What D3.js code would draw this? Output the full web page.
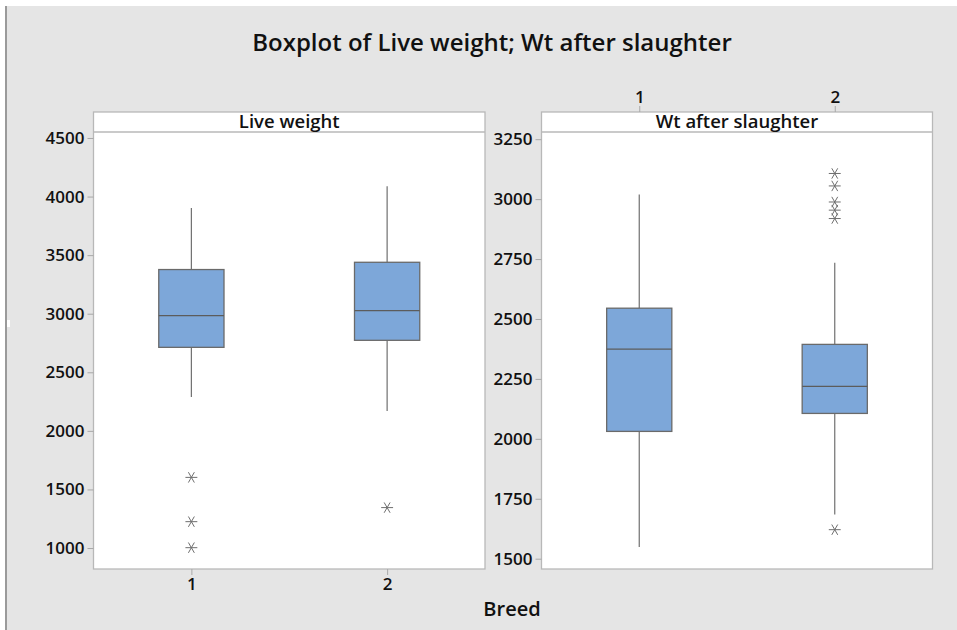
<!DOCTYPE html>
<html>
<head>
<meta charset="utf-8">
<script src="https://cdn.jsdelivr.net/npm/d3@7"></script>
<style>
  body { margin: 0; background: #ffffff; }
  svg text { font-family: "Open Sans", "Noto Sans", sans-serif; fill: #111; }
</style>
</head>
<body>
<script>
//Minitab style boxplot, two panels sharing the Breed axis

//data
var breeds = ["1", "2"];

//Live weight, one value per breed
var liveLow = [2289, 2169],
    liveQ1 = [2713, 2773],
    liveMed = [2984, 3026],
    liveQ3 = [3377, 3439],
    liveHigh = [3902, 4088];
var liveOutliers = [[1603, 1225, 1003], [1345]];
var liveTicks = [1000, 1500, 2000, 2500, 3000, 3500, 4000, 4500];

//Wt after slaughter
var wtLow = [1549, 1684],
    wtQ1 = [2031, 2106],
    wtMed = [2374, 2219],
    wtQ3 = [2545, 2394],
    wtHigh = [3019, 2735];
var wtOutliers = [[], [3107, 3055, 2988, 2954, 2919, 1621]];
var wtTicks = [1500, 1750, 2000, 2250, 2500, 2750, 3000, 3250];

var width = 957, height = 630;

var svg = d3.select("body")
    .append("svg")
    .attr("width", width)
    .attr("height", height);

//figure background
svg.append("rect")
    .attr("x", 6).attr("y", 6)
    .attr("width", width - 6).attr("height", height - 6)
    .attr("fill", "#e5e5e5");
svg.append("rect")
    .attr("x", 5).attr("y", 6)
    .attr("width", 2).attr("height", height - 6)
    .attr("fill", "#9a9a9a");
svg.append("rect")
    .attr("x", 7).attr("y", 320)
    .attr("width", 3).attr("height", 7)
    .attr("fill", "#ffffff");

//title
svg.append("text")
    .attr("x", 492)
    .attr("y", 51)
    .attr("text-anchor", "middle")
    .style("font-size", "24px")
    .style("font-weight", 600)
    .text("Boxplot of Live weight; Wt after slaughter");

var panelTop = 112, stripBottom = 132, panelBottom = 569;

var panels = [
    {name: "Live weight", x0: 93.5, x1: 485, domain: [821, 4551], ticks: liveTicks,
     low: liveLow, q1: liveQ1, med: liveMed, q3: liveQ3, high: liveHigh, out: liveOutliers,
     bottomAxis: true},
    {name: "Wt after slaughter", x0: 541.5, x1: 932.5, domain: [1457, 3280], ticks: wtTicks,
     low: wtLow, q1: wtQ1, med: wtMed, q3: wtQ3, high: wtHigh, out: wtOutliers,
     bottomAxis: false}
];

//asterisk symbol like minitab (horizontal bar + steep cross)
var star = d3.symbol().type(d3.symbolAsterisk).size(100);

panels.forEach(function(p){
    var x = d3.scalePoint()
        .domain(breeds)
        .range([p.x0, p.x1])
        .padding(0.5);
    var y = d3.scaleLinear()
        .domain(p.domain)
        .range([panelBottom, stripBottom]);
    var boxW = x.step() / 3;

    var g = svg.append("g");

    //panel background
    g.append("rect")
        .attr("x", p.x0).attr("y", panelTop)
        .attr("width", p.x1 - p.x0).attr("height", panelBottom - panelTop)
        .attr("fill", "#ffffff")
        .attr("stroke", "#b8b8b8")
        .attr("stroke-width", 1.3);
    g.append("line")
        .attr("x1", p.x0).attr("x2", p.x1)
        .attr("y1", stripBottom).attr("y2", stripBottom)
        .attr("stroke", "#b8b8b8")
        .attr("stroke-width", 1.3);
    g.append("text")
        .attr("x", (p.x0 + p.x1) / 2)
        .attr("y", stripBottom - 4)
        .attr("text-anchor", "middle")
        .style("font-size", "18.5px")
        .style("font-weight", 600)
        .text(p.name);

    //y axis
    var yAxis = g.append("g")
        .attr("transform", "translate(" + p.x0 + ",0)")
        .call(d3.axisLeft(y).tickValues(p.ticks).tickSize(6).tickPadding(3).tickFormat(d3.format("d")));
    yAxis.select(".domain").remove();
    yAxis.selectAll(".tick line").attr("stroke", "#a8a8a8");
    yAxis.selectAll(".tick text")
        .style("font-family", "\"Open Sans\", sans-serif")
        .style("font-size", "17px")
        .style("font-weight", 600)
        .attr("fill", "#111");

    //breed axis, below on the left panel, on top on the right one
    var xAxis;
    if (p.bottomAxis){
        xAxis = g.append("g")
            .attr("transform", "translate(0," + panelBottom + ")")
            .call(d3.axisBottom(x).tickSize(6).tickPadding(3));
    } else {
        xAxis = g.append("g")
            .attr("transform", "translate(0," + panelTop + ")")
            .call(d3.axisTop(x).tickSize(6).tickPadding(3));
    }
    xAxis.select(".domain").remove();
    xAxis.selectAll(".tick line").attr("stroke", "#a8a8a8");
    xAxis.selectAll(".tick text")
        .style("font-family", "\"Open Sans\", sans-serif")
        .style("font-size", "17px")
        .style("font-weight", 600)
        .attr("fill", "#111");

    breeds.forEach(function(b, i){
        var cx = x(b);
        //whiskers
        g.append("line")
            .attr("x1", cx).attr("x2", cx)
            .attr("y1", y(p.high[i])).attr("y2", y(p.q3[i]))
            .attr("stroke", "#707070").attr("stroke-width", 1.2);
        g.append("line")
            .attr("x1", cx).attr("x2", cx)
            .attr("y1", y(p.q1[i])).attr("y2", y(p.low[i]))
            .attr("stroke", "#707070").attr("stroke-width", 1.2);
        //box
        g.append("rect")
            .attr("x", cx - boxW / 2)
            .attr("y", y(p.q3[i]))
            .attr("width", boxW)
            .attr("height", y(p.q1[i]) - y(p.q3[i]))
            .attr("fill", "#7da7d9")
            .attr("stroke", "#6a6a6a")
            .attr("stroke-width", 1.3);
        //median
        g.append("line")
            .attr("x1", cx - boxW / 2).attr("x2", cx + boxW / 2)
            .attr("y1", y(p.med[i])).attr("y2", y(p.med[i]))
            .attr("stroke", "#5c5c5c").attr("stroke-width", 1.2);
        //outliers
        g.selectAll(".out" + i)
            .data(p.out[i])
            .enter()
            .append("path")
            .attr("d", star)
            .attr("transform", function(d){
                return "translate(" + cx + "," + y(d) + ") rotate(90)";
            })
            .attr("fill", "none")
            .attr("stroke", "#6e6e6e")
            .attr("stroke-width", 1);
    });
});

//shared x axis title
svg.append("text")
    .attr("x", 512)
    .attr("y", 616)
    .attr("text-anchor", "middle")
    .style("font-size", "20px")
    .style("font-weight", 600)
    .text("Breed");
</script>
</body>
</html>
